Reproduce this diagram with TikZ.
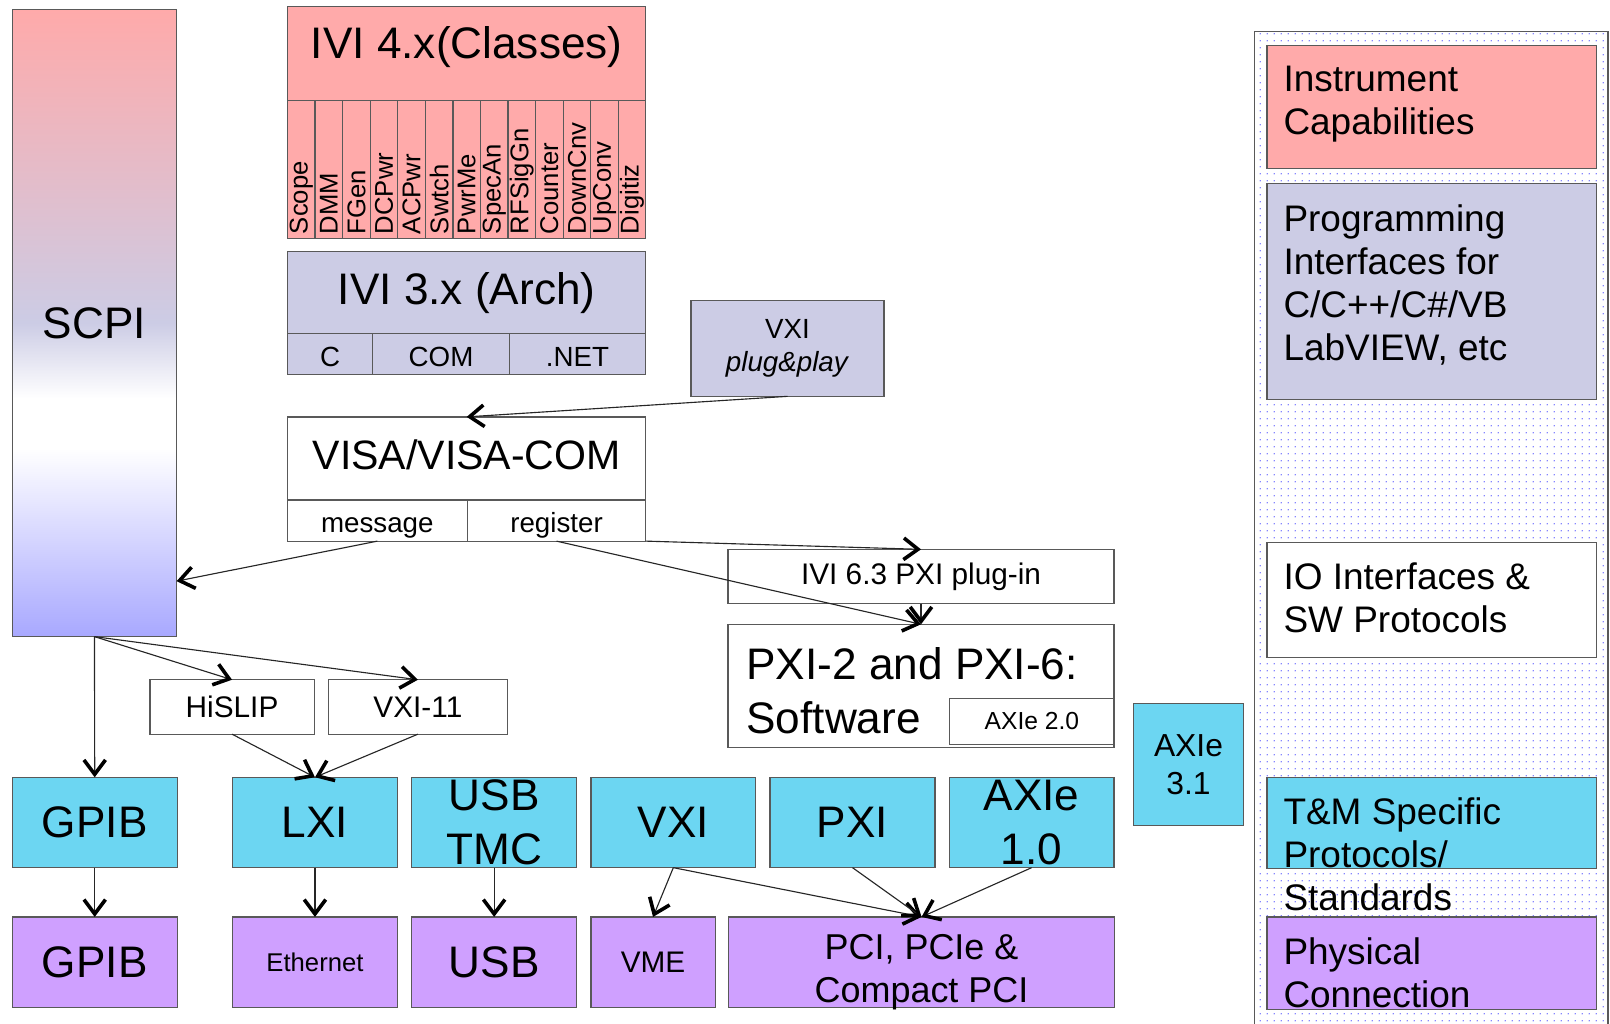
\documentclass[tikz,border=0pt]{standalone}
\usepackage{fontspec}
\setmainfont{Liberation Sans}
\usetikzlibrary{calc, arrows.meta, positioning, patterns.meta}

\definecolor{capred}{HTML}{FFAAAA}
\definecolor{archblue}{HTML}{CCCCE5}
\definecolor{protocyan}{HTML}{6CD6F2}
\definecolor{physviolet}{HTML}{CFA0FF}
\definecolor{scpiblue}{HTML}{A8A8FF}

\pgfdeclareverticalshading{scpifade}{100bp}{color(0bp)=(scpiblue); color(25bp)=(scpiblue); color(40bp)=(white); color(44bp)=(white); color(50bp)=(archblue); color(75bp)=(capred); color(100bp)=(capred)}

\tikzdeclarepattern{
    name=legenddots,
    type=uncolored,
    bounding box={(0pt,0pt) and (7pt,7pt)},
    tile size={(7pt,7pt)},
    code={\fill (3.5pt,3.5pt) circle (0.8pt);}
}

\begin{document}
\begin{tikzpicture}[
    x=1pt, y=-1pt,
    every node/.style={inner sep=0pt, outer sep=0pt},
    box/.style={
            rectangle,
            draw=black!65,
            line width=1.2pt,
            align=center
        },
    boxline/.style={draw=black!65, line width=1.2pt},
    arrow/.style={draw=black!85, line width=1.1pt, -{Straight Barb[length=14pt, width=21pt, line width=3.5pt, color=black]}},
    capbox/.style={box, fill=capred},
    archbox/.style={box, fill=archblue},
    cellbox/.style={box, minimum height=40pt, midfont, text height=26pt, text depth=3pt},
    protobox/.style={box, fill=protocyan, minimum width=160.5pt, minimum height=88pt},
    physbox/.style={box, fill=physviolet, minimum height=88pt},
    legbox/.style={box, minimum width=321pt, anchor=north west},
    legtext/.style={anchor=north west, align=left, inner xsep=16pt, inner ysep=20pt, font=\fontsize{36}{42}\selectfont},
    hugefont/.style={font=\fontsize{43}{52}\selectfont},
    visafont/.style={font=\fontsize{40}{48}\selectfont},
    pcifont/.style={font=\fontsize{35}{42}\selectfont},
    axiefont/.style={font=\fontsize{31}{37}\selectfont},
    tagfont/.style={font=\fontsize{29}{34}\selectfont},
    midfont/.style={font=\fontsize{27}{32}\selectfont},
    clsfont/.style={font=\fontsize{25}{30}\selectfont},
    smallfont/.style={font=\fontsize{24}{29}\selectfont},
    ]

    \useasboundingbox (0,0) rectangle (1568,997);

    % --- Legend panel ---
    \fill[pattern=legenddots, pattern color=blue!65] (1222,31) rectangle (1566,997);
    \draw[boxline] (1222,997) -- (1222,31) -- (1566,31) -- (1566,997);

    \node (legcap) [legbox, fill=capred, minimum height=120pt,
        label={[legtext]north west:{Instrument\\Capabilities}}] at (1234,44) {};
    \node (legprog) [legbox, fill=archblue, minimum height=210pt,
        label={[legtext]north west:{Programming\\Interfaces for\\C/C++/C\#/VB\\LabVIEW, etc}}] at (1234,179) {};
    \node (legio) [legbox, fill=white, minimum height=112pt,
        label={[legtext]north west:{IO Interfaces \&\\SW Protocols}}] at (1234,528) {};
    \node (legtm) [legbox, fill=protocyan, minimum height=89pt,
        label={[legtext]north west:{T\&M Specific\\Protocols/\\Standards}}] at (1234,757) {};
    \node (legphys) [legbox, fill=physviolet, minimum height=90pt,
        label={[legtext]north west:{Physical\\Connection}}] at (1234,893) {};

    % --- SCPI ---
    \node (scpi) [box, shade, shading=scpifade, minimum width=160pt, minimum height=611pt, anchor=north west, hugefont] at (12,9) {SCPI};

    % --- IVI classes ---
    \node (ivi4) [capbox, minimum width=349pt, minimum height=92pt, anchor=north west,
        label={[hugefont, yshift=6pt]center:IVI 4.x(Classes)}] at (280,6) {};
    \node (ivi4cls) [capbox, minimum width=349pt, minimum height=134pt, below=0pt of ivi4] {};
    \foreach \cls [count=\i] in {Scope, DMM, FGen, DCPwr, ACPwr, Swtch, PwrMe, SpecAn, RFSigGn, Counter, DownCnv, UpConv, Digitiz} {
        \pgfmathsetmacro\clspos{(\i-0.5)/13}
        \node (cls\i) [clsfont, rotate=90, anchor=west] at ($(ivi4cls.south west)!\clspos!(ivi4cls.south east) + (0,-4)$) {\cls};
    }
    \foreach \i in {1,...,12} {
        \pgfmathsetmacro\clspos{\i/13}
        \draw[boxline] ($(ivi4cls.north west)!\clspos!(ivi4cls.north east)$) -- ($(ivi4cls.south west)!\clspos!(ivi4cls.south east)$);
    }

    % --- IVI architecture ---
    \node (ivi3) [archbox, minimum width=349pt, minimum height=80pt, anchor=north west, hugefont] at (280,245) {IVI 3.x (Arch)};
    \node (ivi3c) [cellbox, fill=archblue, minimum width=83pt, below=0pt of ivi3.south west, anchor=north west] {C};
    \node (ivi3com) [cellbox, fill=archblue, minimum width=133pt, right=0pt of ivi3c] {COM};
    \node (ivi3net) [cellbox, fill=archblue, minimum width=133pt, right=0pt of ivi3com] {.NET};

    \node (pnp) [archbox, minimum width=188pt, minimum height=93pt, anchor=north west, midfont] at (673,293) {VXI\\\textit{plug\&play}};

    % --- VISA ---
    \node (visa) [box, minimum width=349pt, minimum height=81pt, anchor=north west, visafont, text depth=8pt] at (280,406) {VISA/VISA-COM};
    \node (msgbox) [cellbox, minimum width=175pt, below=0pt of visa.south west, anchor=north west] {message};
    \node (regbox) [cellbox, minimum width=174pt, right=0pt of msgbox] {register};

    % --- PXI software ---
    \node (plugin) [box, minimum width=376pt, minimum height=53pt, anchor=north west, tagfont] at (709,535) {IVI 6.3 PXI plug-in};
    \node (pxisw) [box, minimum width=376pt, minimum height=120pt, below=20pt of plugin,
        label={[hugefont, anchor=north west, align=left, inner xsep=18pt, inner ysep=23pt]north west:{PXI-2 and PXI-6:\\Software}}] {};
    \node (axie2) [box, minimum width=160pt, minimum height=45pt, smallfont, above left=3pt and 0pt of pxisw.south east] {AXIe 2.0};

    % --- LAN protocols ---
    \node (hislip) [box, minimum width=160pt, minimum height=53pt, anchor=north west, tagfont] at (146,662) {HiSLIP};
    \node (vxieleven) [box, minimum width=174pt, minimum height=53pt, tagfont, right=14pt of hislip] {VXI-11};

    % --- T&M standards ---
    \node (gpibc) [protobox, anchor=north west, hugefont] at (12,757) {GPIB};
    \node (lxi) [protobox, hugefont, right=54pt of gpibc] {LXI};
    \node (usbtmc) [protobox, right=14pt of lxi, label={[hugefont, align=center]center:USB\\TMC}] {};
    \node (vxi) [protobox, hugefont, right=14pt of usbtmc] {VXI};
    \node (pxi) [protobox, hugefont, right=14pt of vxi] {PXI};
    \node (axie1) [protobox, right=14pt of pxi, label={[hugefont, align=center]center:AXIe\\1.0}] {};
    \node (axie3) [box, fill=protocyan, minimum width=107pt, minimum height=119pt, anchor=north west, axiefont] at (1104,685) {AXIe\\3.1};

    % --- Physical connections ---
    \node (gpibp) [physbox, minimum width=160.5pt, hugefont, below=48pt of gpibc] {GPIB};
    \node (eth) [physbox, minimum width=160.5pt, clsfont, below=48pt of lxi] {Ethernet};
    \node (usb) [physbox, minimum width=160.5pt, hugefont, below=48pt of usbtmc] {USB};
    \node (vme) [physbox, minimum width=121pt, tagfont, below=48pt of vxi.south west, anchor=north west] {VME};
    \node (pci) [physbox, minimum width=376pt, right=13pt of vme,
        label={[pcifont, align=center, yshift=-10pt]center:{PCI, PCIe \&\\Compact PCI}}] {};

    % --- Arrows ---
    \draw[arrow] (pnp.south) -- (visa.north);
    \draw[arrow] (msgbox.south) -- ([yshift=54pt]scpi.south east);
    \draw[arrow] (regbox.south east) -- (plugin.north);
    \draw[arrow] (regbox.south) -- (pxisw.north);
    \draw[arrow] (plugin.south) -- (pxisw.north);
    \draw[arrow] (scpi.south) -- (gpibc.north);
    \draw[arrow] (scpi.south) -- (hislip.north);
    \draw[arrow] (scpi.south) -- (vxieleven.north);
    \draw[arrow] (hislip.south) -- (lxi.north);
    \draw[arrow] (vxieleven.south) -- (lxi.north);
    \draw[arrow] (gpibc.south) -- (gpibp.north);
    \draw[arrow] (lxi.south) -- (eth.north);
    \draw[arrow] (usbtmc.south) -- (usb.north);
    \draw[arrow] (vxi.south) -- (vme.north);
    \draw[arrow] (vxi.south) -- (pci.north);
    \draw[arrow] (pxi.south) -- (pci.north);
    \draw[arrow] (axie1.south) -- (pci.north);

\end{tikzpicture}
\end{document}
